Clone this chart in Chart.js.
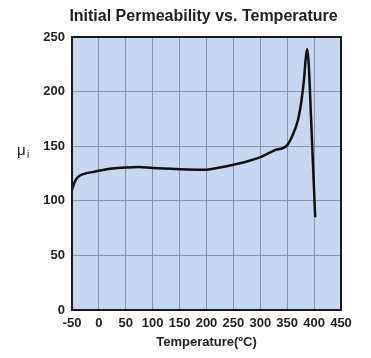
<!DOCTYPE html>
<html>
<head>
<meta charset="utf-8">
<script src="https://cdn.jsdelivr.net/npm/chart.js@4"></script>
<style>
  html, body { margin: 0; padding: 0; background: #ffffff; }
  #wrap { width: 371px; height: 358px; }
</style>
</head>
<body>
<div id="wrap"><canvas id="chart" width="371" height="358"></canvas></div>
<script>
// Initial permeability vs temperature
const temps = [-50, -46, -42, -36, -25, -10, 0, 25, 50, 75, 100, 150, 200, 225, 250, 275, 300, 325, 350, 360, 370, 376, 381, 384, 387, 390, 394, 402];
const mu = [110, 116, 120, 123, 125, 126.5, 127.5, 129.5, 130.5, 131, 130, 129, 128.5, 130.5, 133, 136, 140, 146, 151, 160, 174, 190, 210, 228, 239, 225, 180, 85];

const xTicks = [-50, 0, 50, 100, 150, 200, 250, 300, 350, 400, 450];
const yTicks = [0, 50, 100, 150, 200, 250];

const titleText = 'Initial Permeability vs. Temperature';

const FONT = "'Liberation Sans', Arial, Helvetica, sans-serif";
const BG = '#c7d7ef';
const GRID = '#8595b0';

// Plot background, frame, title centred on the plot and the mu_i axis label
const framePlugin = {
  id: 'frame',
  beforeDraw(chart) {
    const { ctx, chartArea: a } = chart;
    ctx.save();
    ctx.fillStyle = BG;
    ctx.fillRect(a.left, a.top, a.right - a.left, a.bottom - a.top);
    ctx.restore();
  },
  afterDraw(chart) {
    const { ctx, chartArea: a } = chart;
    ctx.save();
    ctx.strokeStyle = '#1a1a1a';
    ctx.lineWidth = 2;
    ctx.strokeRect(a.left, a.top, a.right - a.left, a.bottom - a.top);

    ctx.fillStyle = '#222';
    ctx.textAlign = 'center';
    ctx.textBaseline = 'middle';
    ctx.font = 'bold 16px ' + FONT;
    ctx.fillText(titleText, (a.left + a.right) / 2 - 3, 17);

    // y axis label: mu with subscript i
    ctx.textAlign = 'left';
    ctx.textBaseline = 'alphabetic';
    ctx.font = '15px ' + FONT;
    ctx.fillText('\u03bc', 17, 155);
    ctx.font = '10px ' + FONT;
    ctx.fillText('i', 27, 158);
    ctx.restore();
  },
};

new Chart(document.getElementById('chart'), {
  type: 'scatter',
  data: {
    datasets: [{
      data: temps.map((t, i) => ({ x: t, y: mu[i] })),
      showLine: true,
      borderColor: '#111111',
      borderWidth: 2.5,
      pointRadius: 0,
      cubicInterpolationMode: 'monotone',
      fill: false,
    }],
  },
  options: {
    responsive: false,
    animation: false,
    layout: { padding: { left: 0, right: 30, top: 37, bottom: 0 } },
    plugins: {
      legend: { display: false },
      tooltip: { enabled: false },
      title: { display: false },
    },
    scales: {
      x: {
        type: 'linear',
        min: -50,
        max: 450,
        afterBuildTicks: (s) => { s.ticks = xTicks.map(v => ({ value: v })); },
        afterFit: (s) => { s.height = 48; },
        grid: { color: GRID, lineWidth: 1, drawTicks: false },
        border: { display: false },
        ticks: {
          padding: 6,
          color: '#222',
          font: { family: FONT, size: 13, weight: 'bold' },
          maxRotation: 0,
        },
        title: {
          display: true,
          text: 'Temperature(ºC)',
          color: '#222',
          font: { family: FONT, size: 13, weight: 'bold' },
          padding: { top: 0, bottom: 8 },
        },
      },
      y: {
        min: 0,
        max: 250,
        afterBuildTicks: (s) => { s.ticks = yTicks.map(v => ({ value: v })); },
        afterFit: (s) => { s.width = 72; },
        grid: { color: GRID, lineWidth: 1, drawTicks: false },
        border: { display: false },
        ticks: {
          padding: 7,
          color: '#222',
          font: { family: FONT, size: 13, weight: 'bold' },
        },
      },
    },
  },
  plugins: [framePlugin],
});
</script>
</body>
</html>
